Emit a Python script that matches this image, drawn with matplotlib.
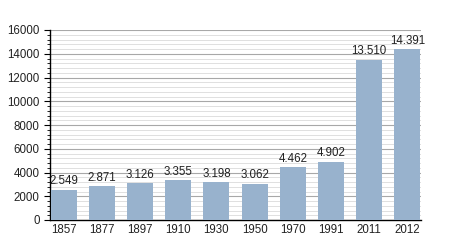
import matplotlib.pyplot as plt
from matplotlib.ticker import MultipleLocator

years = ['1857', '1877', '1897', '1910', '1930', '1950', '1970', '1991', '2011', '2012']
population = [2549, 2871, 3126, 3355, 3198, 3062, 4462, 4902, 13510, 14391]
value_labels = ['2.549', '2.871', '3.126', '3.355', '3.198', '3.062', '4.462', '4.902', '13.510', '14.391']

plt.rcParams['font.family'] = ['Liberation Sans', 'DejaVu Sans']

fig = plt.figure(figsize=(4.5, 2.5), dpi=100)
ax = fig.add_axes([50/450, 30/250, 371/450, 190/250])

x = range(len(years))
bars = ax.bar(x, population, width=0.68, color='#98b2cd', zorder=3)
for xi, v, lab in zip(x, population, value_labels):
    ax.text(xi, v + 200, lab, ha='center', va='bottom', fontsize=8.3, color='#222222', zorder=4)

ax.set_xlim(-0.36, 9.36)
ax.set_ylim(0, 16000)
ax.set_xticks(list(x))
ax.set_xticklabels(years, fontsize=8.3, color='#222222')
ax.yaxis.set_major_locator(MultipleLocator(2000))
ax.yaxis.set_minor_locator(MultipleLocator(400))
ax.tick_params(axis='y', labelsize=8.3, labelcolor='#222222', length=4, width=0.8, direction='out')
ax.tick_params(axis='y', which='minor', length=2, width=0.6)
ax.tick_params(axis='x', length=0, pad=3)
ax.grid(axis='y', which='major', color='#a8a8a8', linewidth=0.8, zorder=0)
ax.grid(axis='y', which='minor', color='#e0e0e0', linewidth=0.7, zorder=0)

for s in ['top', 'right']:
    ax.spines[s].set_visible(False)
ax.spines['left'].set_linewidth(1)
ax.spines['bottom'].set_linewidth(1)

fig.savefig('out.png', dpi=100)
